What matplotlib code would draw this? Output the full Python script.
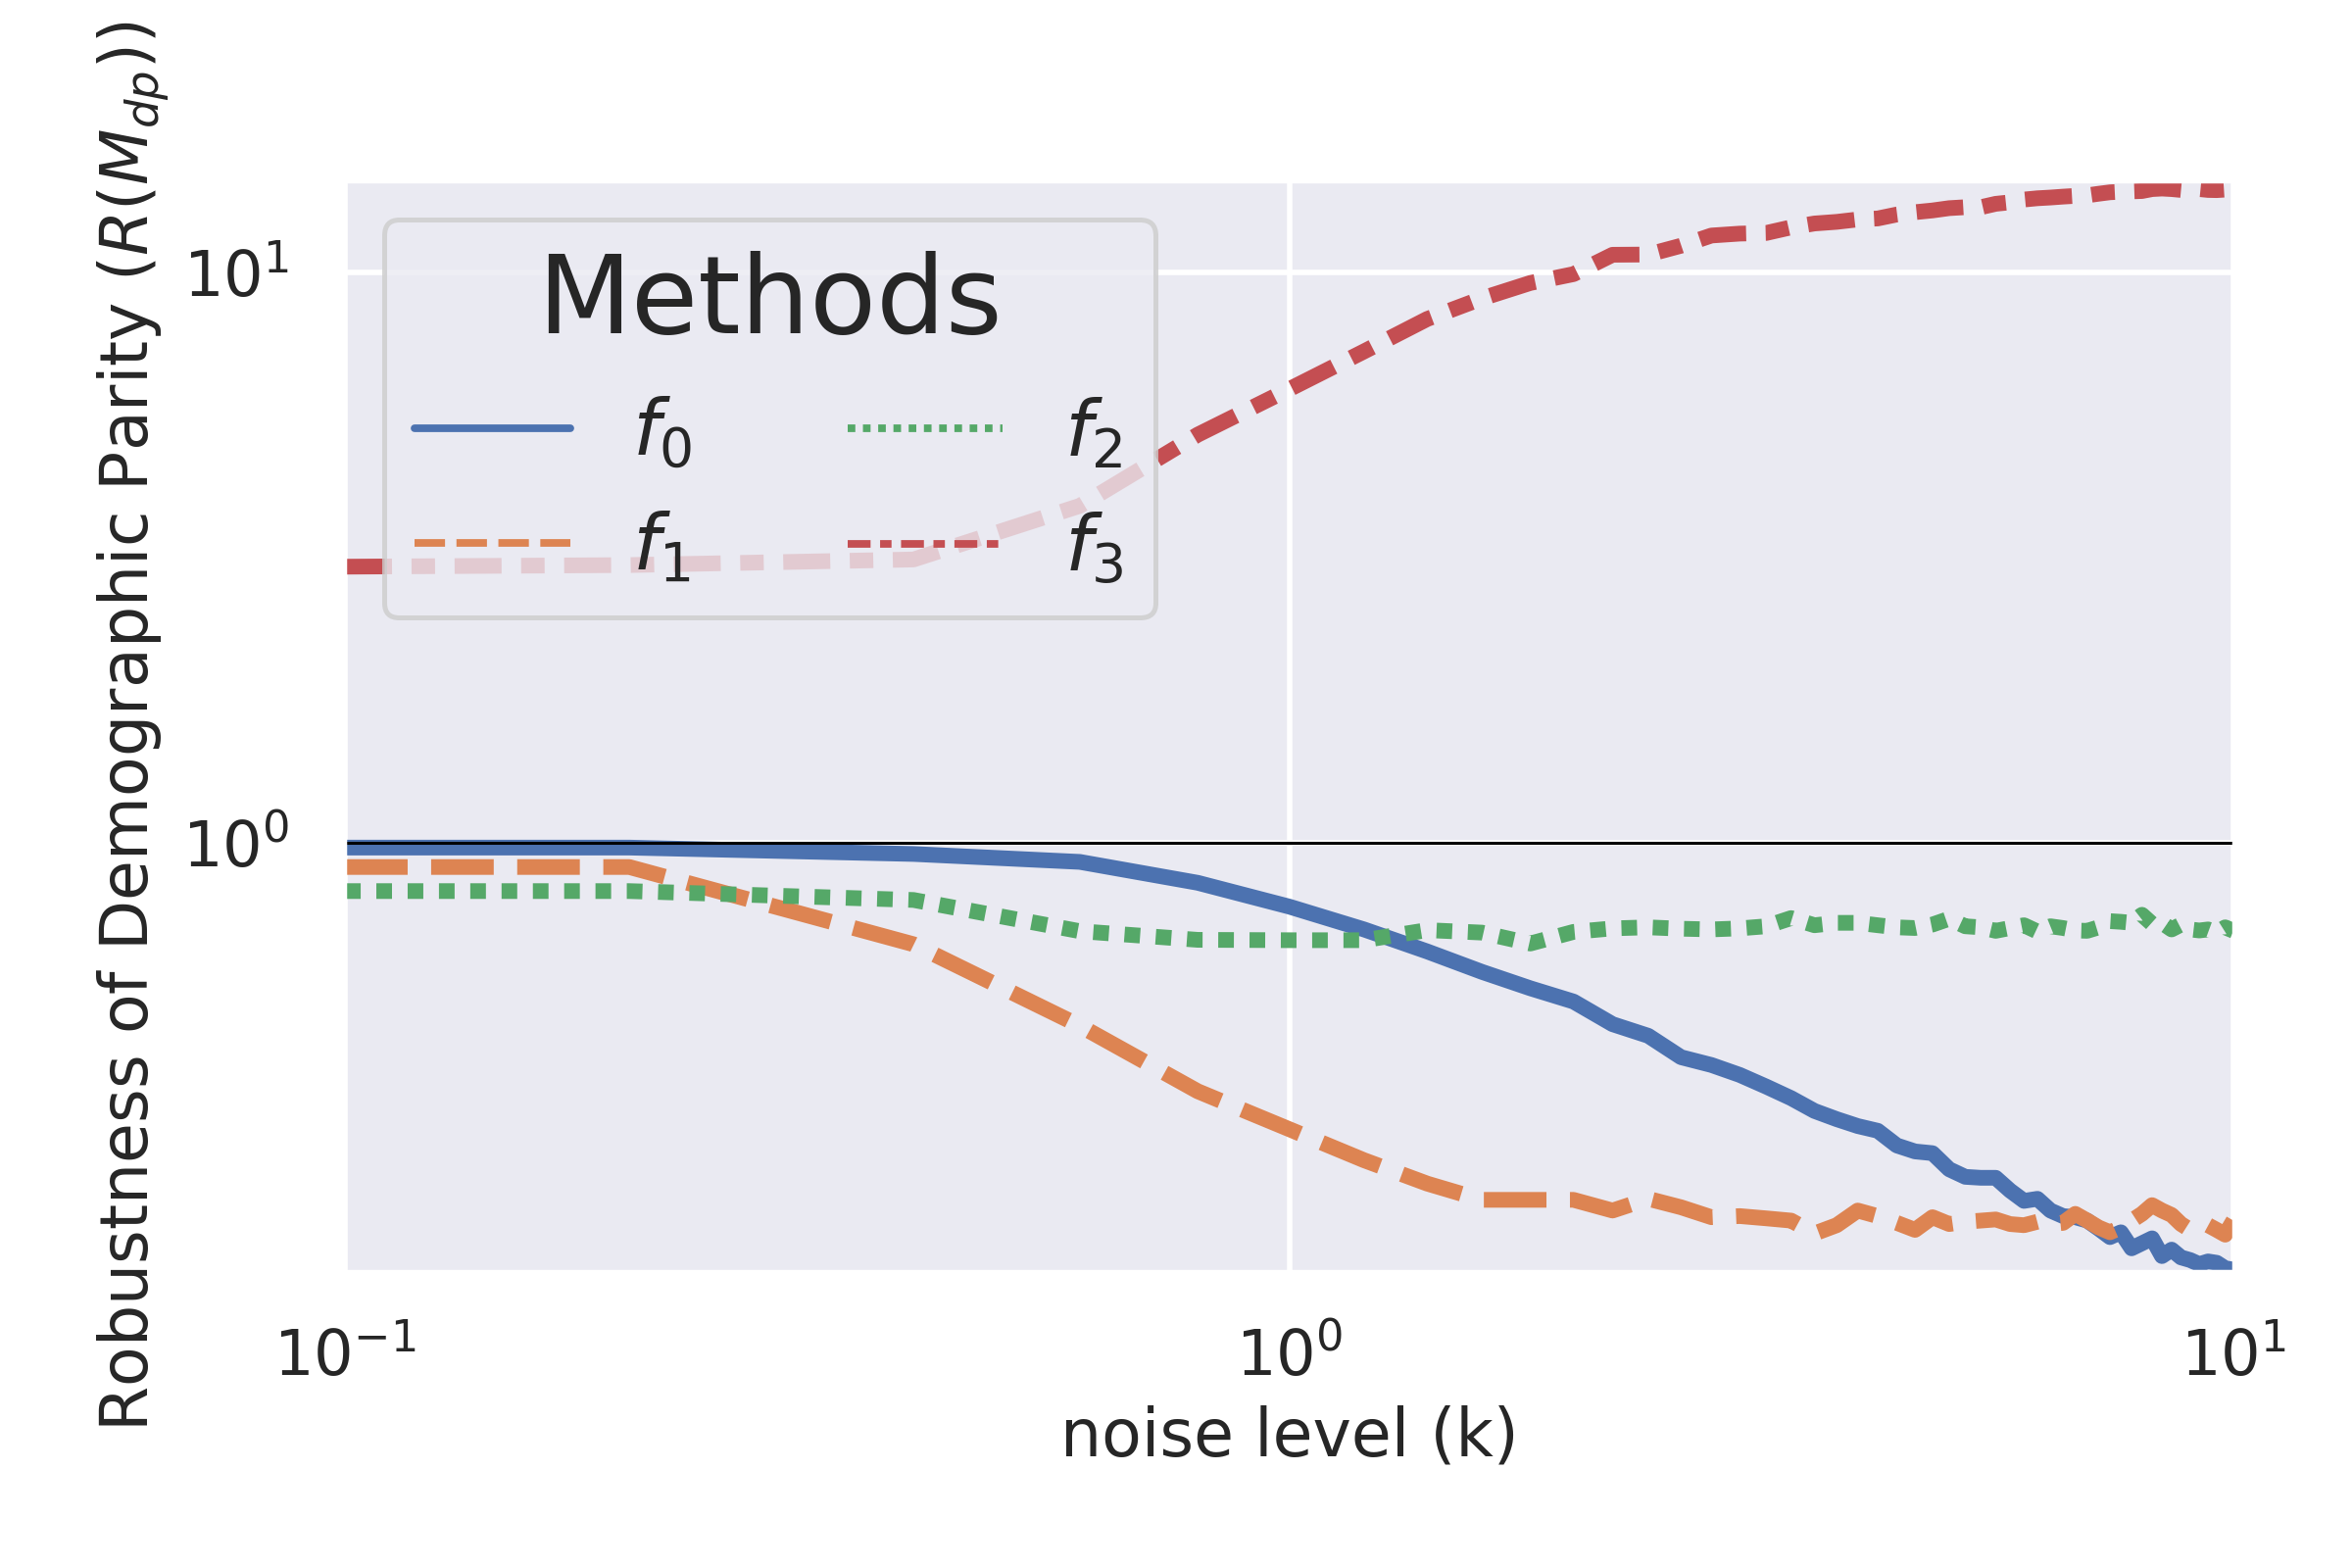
import matplotlib
matplotlib.use('Agg')
import matplotlib.pyplot as plt
import seaborn as sns

# noise levels (k)
noise = [0.1, 0.2, 0.4, 0.6, 0.8, 1.0, 1.2, 1.4, 1.6, 1.8, 2.0, 2.2, 2.4, 2.6, 2.8,
         3.0, 3.2, 3.4, 3.6, 3.8, 4.0, 4.2, 4.4, 4.6, 4.8, 5.0, 5.2, 5.4, 5.6, 5.8,
         6.0, 6.2, 6.4, 6.6, 6.8, 7.0, 7.2, 7.4, 7.6, 7.8, 8.0, 8.2, 8.4, 8.6, 8.8,
         9.0, 9.2, 9.4, 9.6, 9.8, 10.0]

f0 = [0.98, 0.98, 0.955, 0.925, 0.85, 0.772, 0.704, 0.644, 0.593, 0.555, 0.526,
      0.480, 0.458, 0.420, 0.407, 0.391, 0.373, 0.356, 0.338, 0.327, 0.318, 0.312,
      0.294, 0.287, 0.285, 0.267, 0.259, 0.258, 0.258, 0.245, 0.235, 0.237, 0.226,
      0.221, 0.220, 0.217, 0.210, 0.203, 0.207, 0.194, 0.198, 0.202, 0.188, 0.193,
      0.187, 0.185, 0.182, 0.184, 0.183, 0.179, 0.178]

f1 = [0.906, 0.906, 0.663, 0.477, 0.366, 0.314, 0.277, 0.252, 0.236, 0.236, 0.236,
      0.226, 0.237, 0.229, 0.220, 0.221, 0.219, 0.217, 0.206, 0.213, 0.226, 0.221,
      0.215, 0.209, 0.220, 0.214, 0.216, 0.217, 0.218, 0.214, 0.213, 0.216, 0.214,
      0.215, 0.223, 0.217, 0.211, 0.207, 0.211, 0.217, 0.223, 0.231, 0.226, 0.222,
      0.214, 0.209, 0.210, 0.213, 0.209, 0.205, 0.217]

f2 = [0.822, 0.822, 0.793, 0.699, 0.675, 0.674, 0.674, 0.702, 0.695, 0.665, 0.697,
      0.707, 0.710, 0.706, 0.704, 0.707, 0.713, 0.737, 0.716, 0.723, 0.723, 0.716,
      0.710, 0.708, 0.718, 0.735, 0.713, 0.710, 0.700, 0.708, 0.716, 0.698, 0.713,
      0.708, 0.701, 0.700, 0.710, 0.728, 0.726, 0.723, 0.747, 0.720, 0.723, 0.704,
      0.718, 0.704, 0.701, 0.704, 0.695, 0.710, 0.700]

f3 = [3.05, 3.07, 3.14, 3.9, 5.2, 6.25, 7.28, 8.30, 9.02, 9.60, 9.95, 10.76, 10.77,
      11.16, 11.63, 11.72, 11.75, 12.02, 12.21, 12.29, 12.41, 12.46, 12.66, 12.78,
      12.87, 12.99, 13.04, 13.04, 13.22, 13.30, 13.45, 13.52, 13.56, 13.61, 13.65,
      13.68, 13.77, 13.85, 13.88, 13.90, 13.92, 14.03, 14.06, 14.03, 13.98, 13.97,
      14.03, 13.98, 13.97, 14.00, 14.03]

names = ['$f_0$', '$f_1$', '$f_2$', '$f_3$']
series = [f0, f1, f2, f3]

sns.set_theme(style='darkgrid')
plt.rcParams['font.family'] = ['DejaVu Sans']
colors = sns.color_palette('deep')[:4]
dashes = [(), (4, 1.5), (1, 1), (3, 1.25, 1.5, 1.25)]

fig = plt.figure(figsize=(12, 8), dpi=200)
ax = fig.add_axes([0.1467, 0.1894, 0.8029, 0.6952])

for name, ys, c, d in zip(names, series, colors, dashes):
    ax.plot(noise, ys, color=c, lw=5.75, dashes=d, label=name)

ax.axhline(1, color='black', lw=1.1)

ax.set_xscale('log')
ax.set_yscale('log')
ax.set_xlim(0.1, 10)
ax.set_ylim(0.177, 14.5)
ax.grid(True, lw=2)
ax.tick_params(labelsize=23, pad=14.5)
ax.set_xlabel('noise level (k)', fontsize=24, labelpad=6)
ax.set_ylabel('Robustness of Demographic Parity ($R(M_{dp})$)', fontsize=24)

leg = ax.legend(title='Methods', ncol=2, loc='upper left', fontsize=28.5, title_fontsize=40)
for line in leg.get_lines():
    line.set_linewidth(2.8)
leg.get_frame().set_linewidth(1.8)

fig.savefig('out.png', dpi=200)
